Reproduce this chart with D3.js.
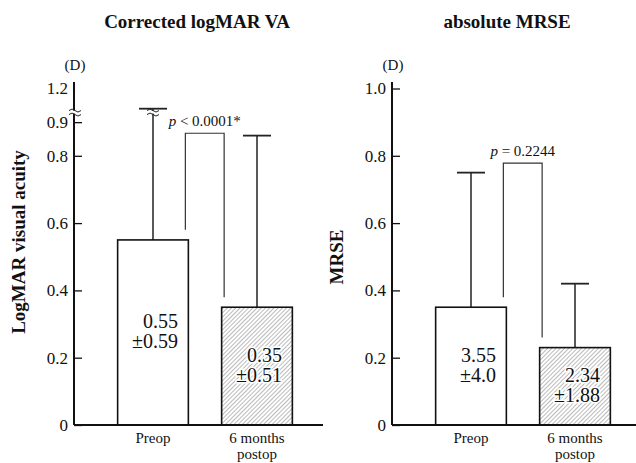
<!DOCTYPE html>
<html>
<head>
<meta charset="utf-8">
<script src="https://cdn.jsdelivr.net/npm/d3@7"></script>
<style>
  body { margin: 0; background: #fff; }
  svg { display: block; }
  text { font-family: "Liberation Serif", "Times New Roman", serif; fill: #111; }
</style>
</head>
<body>
<svg id="chart" width="636" height="463"></svg>
<script>
// Data --------------------------------------------------------------
const categories  = ["Preop", "6 months postop"];
const xTickLines  = [["Preop"], ["6 months", "postop"]];

// left panel: corrected logMAR VA
const vaMean      = [0.55, 0.35];
const vaSD        = [0.59, 0.51];
const vaLabels    = [["0.55", "\u00b10.59"], ["0.35", "\u00b10.51"]];
const vaTicks     = [0, 0.2, 0.4, 0.6, 0.8, 0.9, 1.2];
const vaP         = "< 0.0001*";
const vaBracket   = { top: 0.867, legs: [0.58, 0.38] };

// right panel: absolute MRSE (plotted /10)
const mrseMean    = [0.35, 0.23];
const mrseSD      = [0.40, 0.19];
const mrseLabels  = [["3.55", "\u00b14.0"], ["2.34", "\u00b11.88"]];
const mrseTicks   = [0, 0.2, 0.4, 0.6, 0.8, 1.0];
const mrseP       = "= 0.2244";
const mrseBracket = { top: 0.778, legs: [0.38, 0.26] };

// Layout -------------------------------------------------------------
const svg = d3.select("#chart");
const base = 425, unit = 336.5;

// hatch pattern for postop bars
svg.append("defs").append("pattern")
    .attr("id", "hatch")
    .attr("patternUnits", "userSpaceOnUse")
    .attr("width", 3).attr("height", 3)
    .attr("patternTransform", "rotate(45)")
  .call(p => {
    p.append("rect").attr("width", 3).attr("height", 3).attr("fill", "#fff");
    p.append("line").attr("x1", 0).attr("y1", 0).attr("x2", 0).attr("y2", 3)
      .attr("stroke", "#666").attr("stroke-width", 0.9);
  });

function breakMark(g, x, yb) {
  g.append("rect").attr("x", x - 7).attr("y", yb - 1.5).attr("width", 14).attr("height", 3)
    .attr("fill", "#fff");
  [-2, 2].forEach(dy => {
    g.append("path")
      .attr("d", `M${x - 6},${yb + dy + 0.5} q3,-3 6,0 t6,0`)
      .attr("fill", "none").attr("stroke", "#222").attr("stroke-width", 1);
  });
}

function panel(o) {
  const g = svg.append("g");
  const y = o.y;

  const x = d3.scaleBand().domain(categories)
      .range(o.xRange).paddingInner(0.32).paddingOuter(0.16);

  // title
  g.append("text").attr("x", o.titleX).attr("y", 28)
    .attr("text-anchor", "middle").style("font-size", "19px").style("font-weight", "bold")
    .text(o.title);

  // y label
  g.append("text")
    .attr("transform", `translate(${o.yLabelX},${o.yLabelY}) rotate(-90)`)
    .attr("text-anchor", "middle").style("font-size", "19px").style("font-weight", "bold")
    .text(o.yLabel);

  // (D)
  g.append("text").attr("x", o.axisX + 1).attr("y", 70)
    .attr("text-anchor", "middle").style("font-size", "15px").text("(D)");

  // y axis
  const ax = g.append("g").attr("transform", `translate(${o.axisX},0)`)
    .call(d3.axisLeft(y).tickValues(o.ticks)
      .tickSizeInner(-8).tickSizeOuter(0).tickPadding(6)
      .tickFormat(d => d === 0 ? "0" : d.toFixed(1)));
  ax.select(".domain").remove();
  ax.selectAll(".tick line").attr("stroke", "#111").attr("stroke-width", 1.3)
    .filter(d => d > o.yMaxTick).remove();
  ax.selectAll(".tick text").style("font-size", "17px")
    .style("font-family", "'Liberation Serif', serif").attr("fill", "#111");
  g.append("line")
    .attr("x1", o.axisX).attr("x2", o.axisX)
    .attr("y1", y(0)).attr("y2", y(o.ticks[o.ticks.length - 1]) - 6.5)
    .attr("stroke", "#111").attr("stroke-width", 2);

  // bars
  const rows = categories.map((c, i) => ({ c, i, m: o.mean[i], sd: o.sd[i], lab: o.labels[i] }));

  // error bars
  rows.forEach(d => {
    const cx = x(d.c) + x.bandwidth() / 2;
    const top = d.m + d.sd;
    g.append("line").attr("x1", cx).attr("x2", cx).attr("y1", y(d.m)).attr("y2", y(top))
      .attr("stroke", "#222").attr("stroke-width", 1.5);
    g.append("line").attr("x1", cx - 14).attr("x2", cx + 14).attr("y1", y(top)).attr("y2", y(top))
      .attr("stroke", "#222").attr("stroke-width", 1.8);
    if (o.breakAt && top > o.breakAt) breakMark(g, cx, y(o.breakAt));
  });

  g.selectAll("rect.bar").data(rows).join("rect")
    .attr("class", "bar")
    .attr("x", d => x(d.c)).attr("width", x.bandwidth())
    .attr("y", d => y(d.m)).attr("height", d => y(0) - y(d.m))
    .attr("fill", d => d.i === 0 ? "#fff" : "url(#hatch)")
    .attr("stroke", "#111").attr("stroke-width", 1.6);

  // labels inside bars
  rows.forEach(d => {
    const cx = x(d.c) + x.bandwidth() / 2;
    const mid = (y(d.m) + y(0)) / 2;
    d.lab.forEach((t, k) => {
      g.append("text")
        .attr("x", cx + 25).attr("y", mid - 4 + k * 20)
        .attr("text-anchor", "end").style("font-size", "20px")
        .attr("stroke", d.i === 0 ? "none" : "#fff").attr("stroke-width", 3)
        .attr("paint-order", "stroke")
        .text(t);
    });
  });

  // x axis baseline
  g.append("line").attr("x1", o.axisX).attr("x2", o.xAxisEnd)
    .attr("y1", y(0)).attr("y2", y(0)).attr("stroke", "#111").attr("stroke-width", 2);

  // x tick labels
  rows.forEach(d => {
    const cx = x(d.c) + x.bandwidth() / 2;
    xTickLines[d.i].forEach((s, k) => {
      g.append("text").attr("x", cx).attr("y", 442.5 + k * 16.6)
        .attr("text-anchor", "middle").style("font-size", "15px").text(s);
    });
  });

  // significance bracket
  const lx = x(categories[0]) + x.bandwidth() - 3;
  const rx = x(categories[1]) + 2.5;
  const bt = y(o.bracket.top);
  g.append("path")
    .attr("d", `M${lx},${y(o.bracket.legs[0])}V${bt}H${rx}V${y(o.bracket.legs[1])}`)
    .attr("fill", "none").attr("stroke", "#333").attr("stroke-width", 1.2);
  const pt = g.append("text").attr("x", (lx + rx) / 2).attr("y", bt - 7)
    .attr("text-anchor", "middle").style("font-size", "15px");
  pt.append("tspan").style("font-style", "italic").text("p");
  pt.append("tspan").text(" " + o.p);

  if (o.breakAt) breakMark(g, o.axisX + 1, y(o.breakAt));
}

// left: broken axis above 0.9
const yVA = d3.scaleLinear()
  .domain([0, 0.93, 1.13, 1.2])
  .range([base, base - 0.93 * unit, base - 0.93 * unit, base - 1.0 * unit]);
const yMR = d3.scaleLinear().domain([0, 1]).range([base, base - unit]);

panel({
  y: yVA, axisX: 74, xRange: [101, 309], xAxisEnd: 323,
  title: "Corrected logMAR VA", titleX: 197,
  yLabel: "LogMAR visual acuity", yLabelX: 25, yLabelY: 242,
  ticks: vaTicks, yMaxTick: 1.0, breakAt: 0.93,
  mean: vaMean, sd: vaSD, labels: vaLabels, p: vaP, bracket: vaBracket
});

panel({
  y: yMR, axisX: 392, xRange: [419, 627], xAxisEnd: 636,
  title: "absolute MRSE", titleX: 507,
  yLabel: "MRSE", yLabelX: 343, yLabelY: 257,
  ticks: mrseTicks, yMaxTick: 1.1, breakAt: null,
  mean: mrseMean, sd: mrseSD, labels: mrseLabels, p: mrseP, bracket: mrseBracket
});
</script>
</body>
</html>
